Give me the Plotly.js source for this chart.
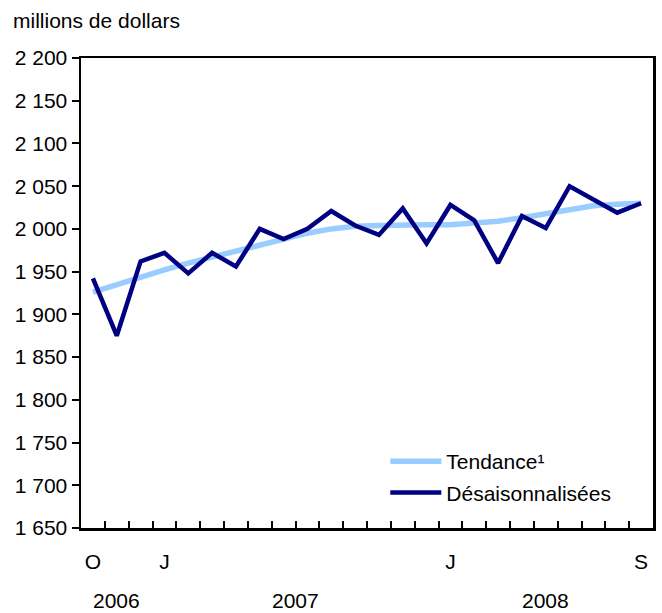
<!DOCTYPE html>
<html>
<head>
<meta charset="utf-8">
<script src="https://cdn.plot.ly/plotly-3.0.1.min.js"></script>
<style>
  body { margin: 0; background: #fff; }
  #graph { width: 662px; height: 613px; }
</style>
</head>
<body>
<div id="graph"></div>
<script>
// Oct 2006 .. Sep 2008, one point per month
var months = [0,1,2,3,4,5,6,7,8,9,10,11,12,13,14,15,16,17,18,19,20,21,22,23];
var tendance = [1926,1935,1944,1952,1960,1967,1975,1982,1989,1995,2000,2003,
                2004,2005,2005,2005,2007,2009,2013,2018,2023,2027,2029,2030];
var desais = [1942,1875,1962,1972,1948,1972,1956,2000,1988,2000,2021,2004,
              1993,2024,1983,2028,2010,1960,2015,2001,2050,2034,2019,2030];
var monthTicks = [0, 3, 15, 23];
var monthLabels = ['O', 'J', 'J', 'S'];
var years = ['2006', '2007', '2008'];
var yearCenters = [1, 8.5, 19];

var boundaries = [];
for (var i = 0; i < months.length - 1; i++) boundaries.push(i + 0.5);

var font = {family: 'Liberation Sans, Arial, sans-serif', size: 21, color: '#000'};

var trace1 = {
  x: months,
  y: tendance,
  type: 'scatter',
  mode: 'lines',
  name: 'Tendance¹',
  legendgroup: 'a',
  line: {color: '#99ccff', width: 5.5}
};
var trace2 = {
  x: months,
  y: desais,
  type: 'scatter',
  mode: 'lines',
  name: 'Désaisonnalisées',
  legendgroup: 'b',
  line: {color: '#000080', width: 4.5}
};

var annots = [{
  text: 'millions de dollars',
  xref: 'paper', yref: 'paper',
  x: 0, y: 1, xanchor: 'left', yanchor: 'middle',
  xshift: -70, yshift: 38,
  showarrow: false, font: font
}];
for (var k = 0; k < years.length; k++) {
  annots.push({
    text: years[k],
    xref: 'x', yref: 'paper',
    x: yearCenters[k], y: 0, yanchor: 'middle',
    yshift: -72,
    showarrow: false, font: font
  });
}

var layout = {
  width: 662,
  height: 613,
  margin: {l: 81, r: 9, t: 58, b: 85},
  paper_bgcolor: '#fff',
  plot_bgcolor: '#fff',
  separators: ', ',
  font: font,
  showlegend: true,
  legend: {
    x: 0.532, y: 0.185, xanchor: 'left', yanchor: 'top',
    bgcolor: 'rgba(0,0,0,0)',
    font: font,
    itemwidth: 51,
    traceorder: 'grouped',
    tracegroupgap: 1
  },
  xaxis: {
    range: [-0.5, 23.5],
    tickmode: 'array',
    tickvals: monthTicks,
    ticktext: monthLabels,
    ticks: 'outside',
    ticklen: 13,
    tickcolor: 'rgba(0,0,0,0)',
    showgrid: false,
    zeroline: false,
    showline: true,
    linecolor: '#000',
    linewidth: 2.5,
    mirror: true,
    minor: {
      tickmode: 'array',
      tickvals: boundaries,
      ticks: 'inside',
      ticklen: 7,
      tickwidth: 2,
      tickcolor: '#000',
      showgrid: false
    }
  },
  yaxis: {
    range: [1650, 2200],
    tickmode: 'linear',
    tick0: 1650,
    dtick: 50,
    tickformat: ',d',
    ticks: 'outside',
    ticklen: 7,
    tickwidth: 2,
    tickcolor: '#000',
    showgrid: false,
    zeroline: false,
    showline: true,
    linecolor: '#000',
    linewidth: 2.5,
    mirror: true
  },
  annotations: annots
};

Plotly.newPlot('graph', [trace1, trace2], layout, {displayModeBar: false, staticPlot: true});
</script>
</body>
</html>
